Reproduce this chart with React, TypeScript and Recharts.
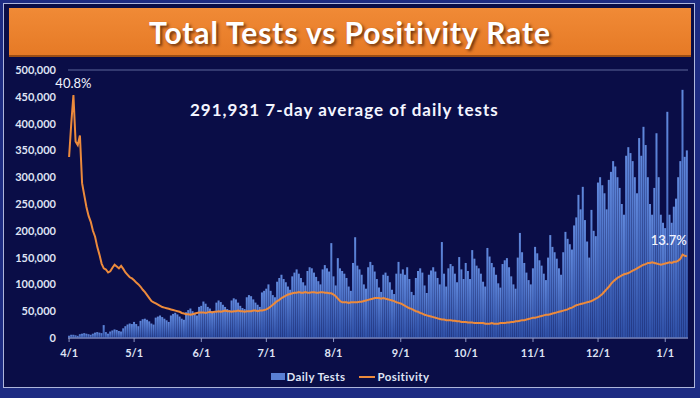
import React from "react";
import {
  ComposedChart,
  Bar,
  Line,
  XAxis,
  YAxis,
  CartesianGrid,
  ReferenceDot,
} from "recharts";

// Daily tests (thousands) and positivity (%), 4/1 → 1/11.
const MONTHS: [number, number][] = [
  [4, 30], [5, 31], [6, 30], [7, 31], [8, 31], [9, 30], [10, 31], [11, 30], [12, 31], [1, 11],
];

const TESTS_APR = [4, 6, 6, 5, 4, 7, 8, 9, 8, 7, 6, 8, 10, 11, 10, 9, 24, 11, 8, 12, 14, 16, 15, 13, 12, 18, 22, 25, 27, 26];
const TESTS_MAY = [30, 26, 22, 32, 35, 36, 34, 31, 27, 25, 38, 40, 42, 39, 36, 33, 30, 42, 45, 47, 44, 40, 36, 34, 48, 52, 55, 50, 46, 42, 58];
const TESTS_JUN = [60, 68, 64, 58, 55, 50, 48, 66, 70, 67, 62, 58, 54, 52, 70, 74, 72, 66, 60, 56, 54, 76, 80, 78, 72, 66, 62, 58, 85, 88];
const TESTS_JUL = [92, 100, 88, 80, 76, 105, 112, 118, 110, 104, 96, 90, 115, 122, 128, 120, 112, 104, 98, 125, 132, 130, 122, 114, 106, 100, 128, 136, 130, 124, 177];
const TESTS_AUG = [115, 98, 149, 130, 125, 120, 112, 96, 88, 140, 188, 135, 128, 118, 100, 92, 132, 142, 136, 124, 110, 94, 86, 118, 122, 116, 104, 90, 82, 120, 142];
const TESTS_SEP = [120, 128, 118, 132, 110, 86, 80, 112, 125, 130, 122, 98, 84, 118, 126, 132, 124, 112, 100, 179, 120, 96, 130, 138, 134, 120, 104, 151, 128, 110];
const TESTS_OCT = [140, 125, 110, 164, 148, 135, 130, 120, 105, 96, 168, 152, 140, 132, 118, 102, 94, 138, 145, 149, 132, 115, 100, 92, 150, 196, 160, 140, 122, 108, 100];
const TESTS_NOV = [130, 170, 158, 145, 135, 120, 108, 150, 192, 170, 160, 148, 130, 118, 160, 198, 185, 175, 165, 210, 225, 267, 240, 282, 220, 180, 150, 239, 200, 190];
const TESTS_DEC = [290, 300, 285, 270, 240, 295, 310, 330, 320, 300, 280, 250, 230, 340, 356, 345, 330, 300, 270, 373, 340, 394, 360, 300, 250, 230, 280, 382, 300, 230, 215];
const TESTS_JAN = [205, 422, 230, 215, 245, 260, 300, 330, 463, 338, 350];

const POS_APR = [30.4, 36, 40.8, 33, 32.4, 34, 26, 24, 22, 20.5, 19.5, 18, 17, 15.3, 14, 12.5, 11.7, 11.5, 11, 11.2, 11.8, 12.3, 12, 11.7, 12.1, 11.6, 11, 10.6, 10.2, 10];
const POS_MAY = [9.7, 9.3, 9, 8.6, 8.1, 7.7, 7.2, 6.7, 6.2, 6, 5.8, 5.6, 5.4, 5.2, 5.1, 5, 4.9, 4.8, 4.7, 4.6, 4.5, 4.4, 4.2, 4.1, 4, 4, 3.9, 4, 4.1, 4.2, 4.3];
const POS_JUN = [4.3, 4.3, 4.2, 4.3, 4.4, 4.3, 4.4, 4.4, 4.5, 4.4, 4.5, 4.6, 4.5, 4.5, 4.4, 4.5, 4.5, 4.6, 4.5, 4.5, 4.4, 4.5, 4.5, 4.5, 4.6, 4.6, 4.5, 4.6, 4.6, 4.7];
const POS_JUL = [4.8, 5, 5.3, 5.6, 5.9, 6.2, 6.4, 6.7, 6.9, 7.1, 7.3, 7.4, 7.5, 7.6, 7.6, 7.7, 7.6, 7.6, 7.7, 7.6, 7.6, 7.7, 7.7, 7.6, 7.6, 7.7, 7.7, 7.6, 7.6, 7.5, 7.5];
const POS_AUG = [7.3, 7, 6.6, 6.2, 6, 6, 6, 5.9, 6, 6, 6, 6, 6.1, 6.1, 6.2, 6.3, 6.4, 6.5, 6.6, 6.7, 6.7, 6.7, 6.6, 6.7, 6.6, 6.5, 6.4, 6.3, 6.2, 6, 5.9];
const POS_SEP = [5.8, 5.6, 5.4, 5.2, 5, 4.9, 4.7, 4.5, 4.4, 4.2, 4.1, 3.9, 3.8, 3.7, 3.6, 3.5, 3.4, 3.3, 3.2, 3.1, 3.1, 3, 3, 3, 2.9, 2.9, 2.8, 2.8, 2.7, 2.7];
const POS_OCT = [2.7, 2.6, 2.6, 2.6, 2.5, 2.5, 2.5, 2.5, 2.5, 2.4, 2.4, 2.4, 2.5, 2.4, 2.4, 2.4, 2.5, 2.5, 2.5, 2.6, 2.6, 2.7, 2.7, 2.8, 2.8, 2.9, 3, 3, 3.1, 3.2, 3.3];
const POS_NOV = [3.4, 3.4, 3.5, 3.6, 3.7, 3.8, 3.9, 3.9, 4, 4.1, 4.2, 4.3, 4.4, 4.5, 4.6, 4.7, 4.8, 5, 5.1, 5.3, 5.5, 5.6, 5.7, 5.8, 5.9, 6, 6.1, 6.2, 6.4, 6.6];
const POS_DEC = [6.8, 7.1, 7.4, 7.8, 8.2, 8.6, 9.1, 9.5, 9.8, 10.1, 10.3, 10.5, 10.7, 10.8, 10.9, 11.1, 11.3, 11.5, 11.7, 11.9, 12.1, 12.3, 12.4, 12.6, 12.6, 12.7, 12.6, 12.5, 12.4, 12.3, 12.4];
const POS_JAN = [12.5, 12.6, 12.7, 12.6, 12.8, 12.8, 13, 13.3, 14, 13.8, 13.7];

const MONTH_TICKS = ["4/1", "5/1", "6/1", "7/1", "8/1", "9/1", "10/1", "11/1", "12/1", "1/1"];
const Y_TICKS = [0, 50, 100, 150, 200, 250, 300, 350, 400, 450, 500];

const PEAK = { day: "4/3", pct: 40.8 };
const LAST = { day: "1/11", pct: 13.7 };
const AVG_TEXT = "291,931 7-day average of daily tests";

const TESTS = [TESTS_APR, TESTS_MAY, TESTS_JUN, TESTS_JUL, TESTS_AUG, TESTS_SEP, TESTS_OCT, TESTS_NOV, TESTS_DEC, TESTS_JAN];
const POS = [POS_APR, POS_MAY, POS_JUN, POS_JUL, POS_AUG, POS_SEP, POS_OCT, POS_NOV, POS_DEC, POS_JAN];

const rows = MONTHS.flatMap(([m, n], mi) =>
  Array.from({ length: n }, (_, i) => ({
    day: `${m}/${i + 1}`,
    tests: TESTS[mi][i],
    pos: POS[mi][i],
  }))
);

const FONT = "Lato, 'DejaVu Sans', sans-serif";
const TICK = { fill: "#dfe3f4", fontSize: 11, fontWeight: 700, fontFamily: FONT };

export default function App() {
  return (
    <div
      style={{
        position: "absolute",
        left: 0,
        top: 0,
        width: 700,
        height: 398,
        background: "#1d2b82",
        fontFamily: FONT,
      }}
    >
      {/* dark panel with thin light border */}
      <div
        style={{
          position: "absolute",
          left: 3,
          top: 3,
          width: 690,
          height: 383,
          background: "#0a0d47",
          border: "1px solid #aeb6dc",
        }}
      />
      {/* title banner */}
      <div
        style={{
          position: "absolute",
          left: 9,
          top: 8,
          width: 682,
          height: 47,
          background: "linear-gradient(#f08a36, #e67a26)",
          borderBottom: "2px solid #9b4d14",
          display: "flex",
          alignItems: "center",
          justifyContent: "center",
          color: "#fff",
          fontSize: 30,
          fontWeight: 700,
          letterSpacing: 0.9,
          textShadow: "2px 2px 3px rgba(60,20,0,0.7)",
        }}
      >
        Total Tests vs Positivity Rate
      </div>

      <div style={{ position: "absolute", left: 0, top: 0 }}>
        <ComposedChart
          width={700}
          height={398}
          data={rows}
          margin={{ top: 70, right: 12, bottom: 30, left: 8 }}
          barCategoryGap={0}
        >
          <defs>
            <linearGradient id="barFill" x1="0" y1="0" x2="0" y2="1">
              <stop offset="0%" stopColor="#6088dc" />
              <stop offset="100%" stopColor="#2e4fa6" />
            </linearGradient>
          </defs>
          <CartesianGrid vertical={false} stroke="#5d6699" strokeWidth={1.2} />
          <XAxis
            dataKey="day"
            ticks={MONTH_TICKS}
            interval={0}
            height={30}
            tick={TICK}
            tickSize={4}
            tickMargin={7}
            axisLine={{ stroke: "#8d96c4" }}
            tickLine={{ stroke: "#8d96c4" }}
          />
          <YAxis
            yAxisId="tests"
            domain={[0, 500]}
            ticks={Y_TICKS}
            width={60}
            tick={TICK}
            tickLine={false}
            axisLine={false}
            tickMargin={6}
            tickFormatter={(v: number) => (v * 1000).toLocaleString("en-US")}
          />
          <YAxis yAxisId="pct" orientation="right" domain={[0, 45]} hide />
          <Bar
            yAxisId="tests"
            dataKey="tests"
            fill="url(#barFill)"
            isAnimationActive={false}
          />
          <Line
            yAxisId="pct"
            dataKey="pos"
            type="linear"
            stroke="#ec8a3c"
            strokeWidth={2}
            dot={false}
            isAnimationActive={false}
          />
          <ReferenceDot
            yAxisId="pct"
            x={PEAK.day}
            y={PEAK.pct}
            r={1}
            fill="none"
            stroke="none"
            label={{
              value: `${PEAK.pct}%`,
              position: "top",
              offset: 6,
              fill: "#f2f4ff",
              fontSize: 13,
              fontFamily: FONT,
            }}
          />
          <ReferenceDot
            yAxisId="pct"
            x={LAST.day}
            y={LAST.pct}
            r={1}
            fill="none"
            stroke="none"
            label={(p: any) => (
              <text
                x={p.viewBox.x + 1}
                y={p.viewBox.y - 10}
                textAnchor="end"
                fill="#f2f4ff"
                fontSize={13}
                fontFamily={FONT}
                fontWeight={600}
              >
                {`${LAST.pct}%`}
              </text>
            )}
          />
        </ComposedChart>
      </div>

      {/* 7-day average callout */}
      <div
        style={{
          position: "absolute",
          left: 190,
          top: 99,
          color: "#f4f5ff",
          fontSize: 17,
          fontWeight: 700,
          letterSpacing: 1,
          whiteSpace: "nowrap",
        }}
      >
        {AVG_TEXT}
      </div>

      {/* legend */}
      <div
        style={{
          position: "absolute",
          top: 370,
          left: 0,
          width: 700,
          display: "flex",
          justifyContent: "center",
          gap: 14,
          color: "#dfe3f4",
          fontSize: 11.5,
          fontWeight: 700,
          letterSpacing: 0.4,
        }}
      >
        <span style={{ display: "flex", alignItems: "center", gap: 2 }}>
          <span style={{ width: 14, height: 7, background: "#5a7fd4" }} />
          Daily Tests
        </span>
        <span style={{ display: "flex", alignItems: "center", gap: 2 }}>
          <span style={{ width: 16, height: 2, background: "#ec8a3c" }} />
          Positivity
        </span>
      </div>
    </div>
  );
}
